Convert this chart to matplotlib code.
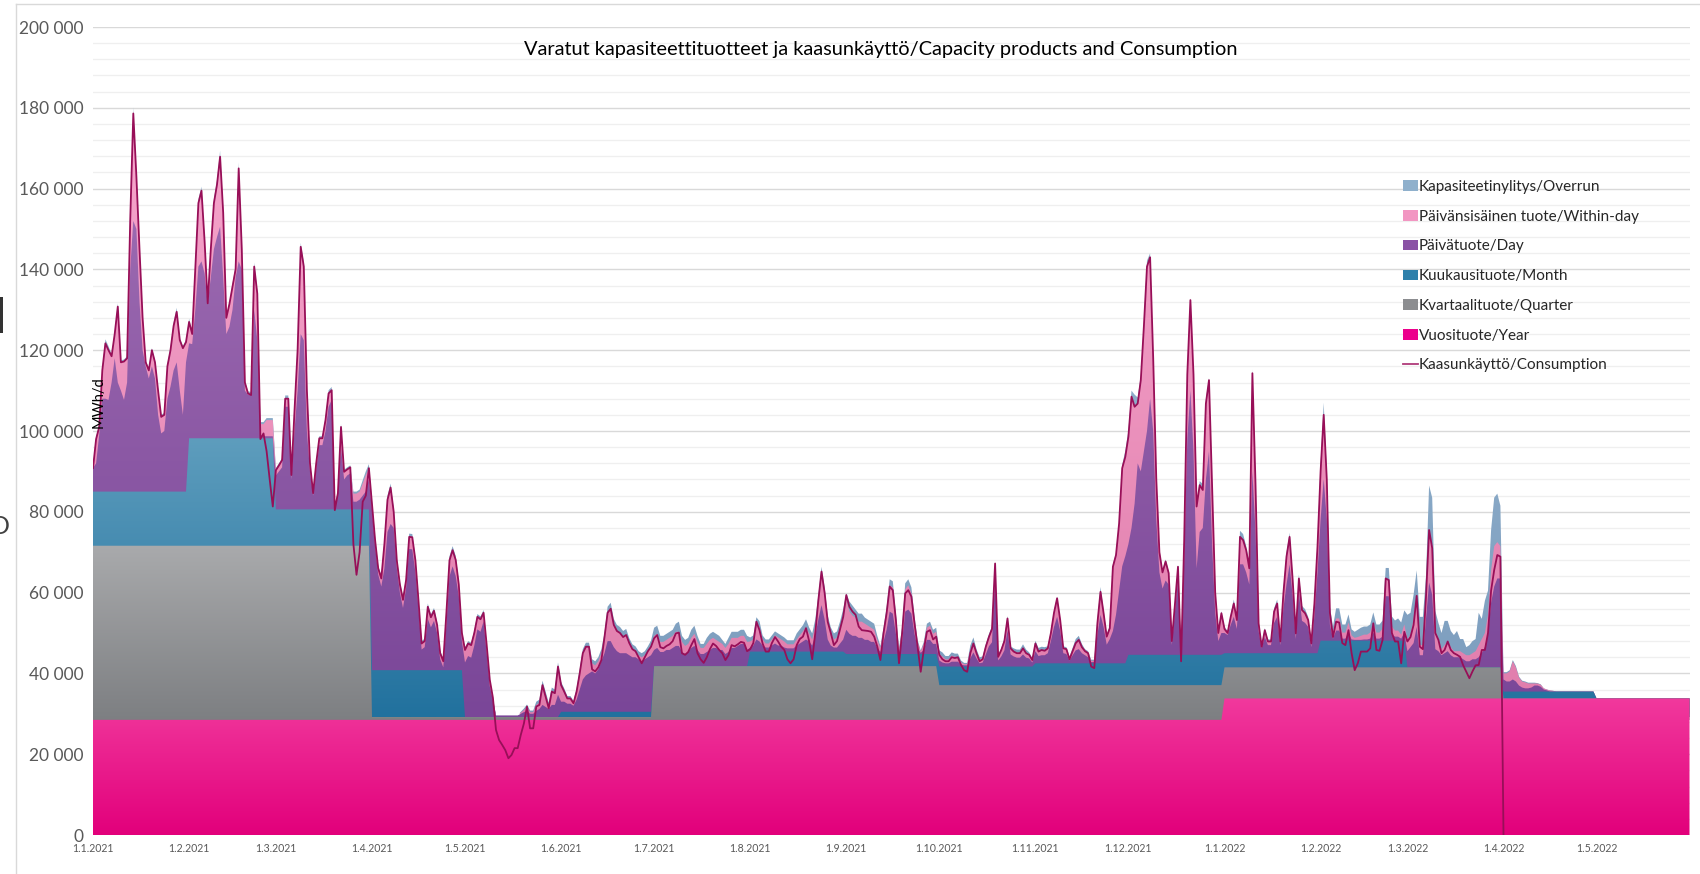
import numpy as np
import pandas as pd
import matplotlib
matplotlib.use("Agg")
import matplotlib.pyplot as plt
import matplotlib.dates as mdates
from matplotlib.colors import LinearSegmentedColormap
from matplotlib.patches import Patch, Rectangle
from matplotlib.lines import Line2D
from matplotlib.ticker import FuncFormatter, MultipleLocator

plt.rcParams['font.family'] = ['Lato', 'DejaVu Sans']

# ---------------- data (values in 1000 MWh/d) ----------------
start_date = "2021-01-01"
end_date = "2022-05-31"

# monthly step products, Jan 2021 ... May 2022
year_product_k = [28.5] * 12 + [33.8] * 5
quarter_product_k = [43.1, 43.1, 43.1, 0.7, 0.7, 0.7, 13.3, 13.3, 13.3,
                     8.6, 8.6, 8.6, 7.7, 7.7, 7.7, 0.0, 0.0]
month_product_k = [13.4, 26.6, 9.0, 11.6, 0.0, 1.3, 0.0, 3.6, 3.0,
                   4.6, 5.4, 7.5, 3.5, 6.6, 0.0, 1.7, 0.0]

# daily consumption 1.1.2021 ... 1.4.2022
consumption_k = [
    # Jan 2021
    90.8, 98, 101, 115, 121.7, 120, 118.5, 124, 130.8, 117, 117.2, 118, 152, 178.6, 163, 145,
    128, 117, 115, 120, 117, 110, 103.5, 104, 116, 120, 126, 129.5, 122.5, 120.5, 122,
    # Feb 2021
    127, 124, 140, 156.4, 159.5, 147, 131.6, 145, 156.4, 161, 167.9, 154, 128, 131.4,
    135.7, 140, 165, 145, 112, 109.3, 108.9, 140.7, 134, 98, 99.4, 95, 88, 81.3,
    # Mar 2021
    90.3, 91.5, 92.8, 108, 108, 89.1, 105, 120, 145.6, 140.7, 110, 92, 84.6, 92, 98.2, 98.2,
    102.7, 109.3, 110.1, 80.4, 84.6, 101, 89.9, 90.5, 91, 72, 64.4, 70, 82.5, 84, 90.8,
    # Apr 2021
    82, 73, 66, 63.5, 72, 83, 86, 80, 68, 62, 58.2, 63.1, 73.8, 73.7, 68, 58, 47.4, 48, 56.5,
    53.9, 55.5, 52, 45, 43, 55, 68, 70.5, 68.1, 62, 50,
    # May 2021
    45.8, 47.4, 47, 50, 54, 53.4, 55, 47, 38.4, 34, 26, 23.5, 22.3, 21, 19, 19.8, 21.5, 21.5,
    24.8, 27.6, 31.8, 26.4, 26.4, 31.8, 32.2, 37.1, 34.2, 31.4, 35.5, 35.1, 41.7,
    # Jun 2021
    37.1, 35.5, 33.8, 33.8, 32.6, 35.5, 40, 45, 46.6, 46.6, 41, 40.5, 41.5, 43.3, 49, 55, 56,
    52, 50.5, 50, 49, 49.5, 47.5, 46, 45.5, 44, 42.5, 44, 45.5, 46.6,
    # Jul 2021
    48.7, 49.5, 46.5, 46.2, 46.8, 47.2, 48, 49.9, 50.1, 45, 44.6, 45.3, 47, 48.5, 45, 43.5,
    42.6, 44, 46, 47.4, 46.8, 45.8, 45, 43.3, 44.5, 47, 46.7, 47.2, 47.8, 47.6, 45.5,
    # Aug 2021
    46, 47.5, 52.8, 50.7, 47.4, 45.4, 45.4, 47.5, 49, 47.9, 46.6, 45.8, 43.5, 42.5, 43.5, 47,
    48.5, 49.1, 51.2, 48, 43.5, 50, 58.2, 65.2, 60, 52.8, 50, 47, 48, 51, 54,
    # Sep 2021
    59.4, 56.5, 55.3, 54.5, 51.6, 50.7, 50.6, 50.5, 50.3, 49.1, 46.6, 43.3, 49.9, 54.9, 61.5,
    60.6, 53.2, 42.5, 49.9, 59.8, 60.6, 59, 52.4, 46.6, 40.4, 45.8, 50.3, 50.7, 48.4, 49.1,
    # Oct 2021
    44.6, 43.5, 43, 43, 44, 43.8, 44, 42.1, 40.8, 40.4, 45, 47.4, 45, 43, 43.5, 46.6, 49, 51,
    67.2, 44.1, 45.8, 48, 53.6, 46.2, 45.4, 45, 45, 46.2, 45, 44.6, 43.3,
    # Nov 2021
    47.4, 45.4, 45.8, 45.6, 46.2, 50, 55, 58.6, 53.2, 46.2, 46, 43.5, 45.5, 47.5, 48.3, 46.5,
    45.5, 45, 41.7, 41.3, 52.4, 60.2, 54.9, 49.1, 51.2, 66.4, 69.3, 77.1, 90.8, 93.6,
    # Dec 2021
    98.6, 108.5, 106, 106.8, 112.6, 126, 140.7, 143, 118, 88, 70, 65, 67.7, 64.8, 48, 57, 66.4,
    43, 73, 114, 132.4, 114, 81.3, 86.6, 85.4, 106.8, 112.6, 86.2, 60, 50, 54.9,
    # Jan 2022
    51, 50, 54, 57.3, 53.2, 73.8, 73, 70.5, 66, 114.3, 87, 52.4, 46.6, 50.7, 47.9, 47.9, 55.3,
    57.3, 47.9, 59.8, 68.9, 73.8, 63.1, 49.9, 63.5, 55.7, 54.9, 53.2, 47.4, 57.3, 71.4,
    # Feb 2022
    90, 104, 88, 55, 49, 52.8, 52.6, 47.5, 47, 50.7, 45, 40.8, 42.5, 45.4, 45.4, 45.4, 46.2,
    52.4, 45.8, 45.6, 48.3, 63.5, 63.1, 50, 47.9, 47.9, 42.5, 50.3,
    # Mar 2022
    47.9, 49, 52, 59.2, 46.6, 46, 59, 75.5, 71, 50, 48.3, 45, 45.8, 47.9, 45.8, 45, 44.6, 44.1,
    42, 40.4, 38.8, 40.5, 42, 42.1, 45.8, 45.8, 50, 60.5, 65.6, 69.3, 68.9,
    # 1.4.2022
    0,
]

# daily day product (Päivätuote/Day), 1.1.2021 ... 31.5.2022
day_product_k = [
    5.8, 7, 14, 23, 23, 22.7, 27, 33, 27, 25, 22.7, 27, 55, 67, 65, 47, 35, 31, 28, 31, 28, 19,
    14.4, 15, 23, 26, 30, 32, 25, 19, 32,
    23.5, 23.3, 31.8, 42.5, 43.8, 40.8, 33.4, 39.8, 46.8, 49.8, 52.4, 39.8, 25.8, 27.6, 31.8,
    39.8, 43.8, 41.8, 11.8, 10.8, 10.7, 31.8, 24.3, 0.5, 0.5, 0.5, 0.5, 0.5,
    8.4, 9.4, 10.4, 25.4, 25.4, 7.4, 19.4, 29.4, 43.4, 41.9, 19.4, 9.4, 3.4, 9.9, 15.9, 15.9,
    19.4, 25.4, 27.1, 0.4, 3.4, 15.4, 7.4, 8.4, 8.9, 1.9, 1.9, 2.4, 3.4, 4.4, 7.4,
    39.7, 30.7, 23.7, 20.7, 25.2, 34.2, 36.2, 35.2, 25.2, 19.2, 15.4, 20.3, 30, 29.9, 24.2,
    15.2, 5.1, 5.7, 12.7, 10.6, 12.2, 9.2, 2.7, 0.7, 11.2, 23.2, 25.7, 23.3, 18.2, 7.2,
    13.5, 15.1, 14.7, 17.7, 21.7, 21.1, 23.7, 15.7, 7.6, 4.2, 0.4, 0.4, 0.4, 0.4, 0.4, 0.4,
    0.4, 0.4, 0.8, 1.2, 1.5, 0.8, 0.8, 1.5, 2, 3, 2.5, 2, 3, 3, 5.5,
    2.5, 2.5, 2, 2, 1.5, 3, 5.5, 8, 9, 9.5, 10, 9.5, 10.5, 12.5, 14.5, 17.5, 17.5, 16, 15,
    14.5, 14.5, 14.5, 14, 13.5, 13.5, 13, 12.5, 13, 13.5, 14,
    4, 4.5, 3.5, 3.5, 4, 4, 4.5, 5, 5, 3.5, 3, 3.5, 4.5, 5, 4, 3, 3, 3.5, 4, 4.5, 4.5, 4, 4,
    3, 3.5, 4.5, 4.5, 5, 5.5, 5.5, 4,
    1, 1.5, 3, 2.5, 1.5, 1, 1, 1.5, 2, 1.5, 1.5, 1, 0.8, 0.8, 0.8, 1.5, 2, 2.5, 3, 2.5, 1.5,
    4, 8, 11.5, 8, 3, 1.5, 1, 1, 2, 3,
    6, 5, 4.5, 4.5, 4, 4, 3.5, 3.5, 3, 3, 1.5, 0.5, 3, 6, 10.5, 10, 5, 0.5, 3, 10.5, 11, 10,
    5, 1.5, 0.3, 1, 3.5, 3.5, 2.5, 2.5,
    1.5, 1, 0.8, 0.8, 1.2, 1.2, 1.2, 0.5, 0.3, 0.3, 2, 3.5, 2, 0.8, 1, 3, 5, 6, 22, 1.5, 2.5,
    4, 9, 3, 2.5, 2.2, 2.2, 3, 2.2, 2, 1,
    3, 1.8, 2, 2, 2.5, 5.5, 9, 11.5, 8, 2.5, 2.3, 0.7, 2, 3.2, 3.5, 2.5, 2, 1.5, 0.3, 0.3, 7,
    12, 9, 4.6, 6, 8, 12, 18, 24, 26.5,
    27.4, 31.4, 37.4, 47.4, 45.4, 50.4, 55.4, 63.4, 55.4, 33.4, 20.4, 16.4, 18.4, 17.4, 2.4,
    10.4, 18.4, 0.4, 23.4, 53.4, 65.4, 50.4, 21.4, 30.4, 31.4, 43.4, 50.4, 27.4, 10.4, 3.4, 5.4,
    5, 4.5, 7, 9, 6, 22, 22, 20, 17, 45, 30, 5.5, 1.2, 4, 2, 2, 7.5, 9, 2, 11, 17, 22, 14, 3.5,
    15, 8, 7.5, 6.5, 1.5, 9, 20,
    30, 40, 30, 4, 0.5, 2.5, 2.5, 0.5, 0.5, 2, 0.3, 0.2, 0.2, 0.2, 0.3, 0.3, 0.5, 2, 0.5, 0.5,
    1, 11, 11, 1.5, 1, 1, 0.5, 2,
    4, 5, 6, 10, 3, 3, 12, 21, 18, 4.5, 4, 3, 3.5, 4, 3, 2.5, 2.5, 2.5, 2, 1.5, 1.5, 2, 2, 2.5,
    3.5, 5, 8, 16, 20, 22, 22,
    3, 2.5, 2.5, 3, 2.5, 1.5, 1, 0.8, 0.8, 1, 1.5, 1.5, 1.2, 0.5, 0.3, 0, 0, 0, 0, 0, 0, 0, 0,
    0, 0, 0, 0, 0, 0, 0,
    0, 0, 0, 0, 0, 0, 0, 0, 0, 0, 0, 0, 0, 0, 0, 0, 0, 0, 0, 0, 0, 0, 0, 0, 0, 0, 0, 0, 0, 0, 0,
]

# daily within-day product (Päivänsisäinen tuote/Within-day)
within_day_k = [
    0, 6, 2, 7, 13.7, 12.3, 6.5, 6, 18.8, 7, 9.5, 6, 12, 26.6, 13, 13, 8, 1, 2, 4, 4, 6, 4.1, 4,
    8, 9, 11, 12.5, 12.5, 16.5, 5,
    5.3, 2.5, 10, 15.7, 17.5, 8, 0.5, 7, 11.4, 13, 17.3, 16, 4, 5.6, 5.7, 2, 23, 5, 2, 0.3,
    0.3, 10.7, 11.5, 3, 3, 4, 4, 4,
    1.3, 1.5, 1.8, 2, 2, 1.1, 5, 10, 21.6, 18.2, 10, 2, 0.6, 1.5, 1.7, 1.7, 2.7, 3.3, 2.4, 0.3,
    0.6, 5, 1.9, 1.5, 1.5, 2, 2, 2, 3, 4, 2.8,
    1.5, 1.5, 1.5, 2, 6, 8, 9, 4, 2, 2, 2, 2, 3, 3, 3, 2, 1.5, 1.5, 3, 2.5, 2.5, 2, 1.5, 1.5,
    3, 4, 4, 4, 3, 2,
    3, 3, 3, 3, 3, 3, 2, 2, 1.5, 0.5, 0, 0, 0, 0, 0, 0, 0, 0, 0.3, 0.5, 1, 0.4, 0.4, 1.5, 1.5,
    5, 3, 1, 3.5, 3, 7,
    4.1, 2.5, 1.3, 1.3, 0.6, 2, 4, 6.5, 7.1, 6.6, 2, 2, 2, 2, 4, 7, 8, 5.5, 5, 5, 4, 4.5, 3,
    2, 1.5, 1, 1, 1, 1.5, 2.1,
    3.5, 3.5, 2.5, 2.5, 2.5, 3, 3, 3.5, 3.5, 2.5, 2, 2, 2.5, 3, 2, 1.5, 1.5, 2, 2.5, 2.5, 2,
    2, 1.5, 1.5, 2, 2.5, 2.5, 2, 2, 2, 2,
    1.5, 1.5, 4, 3.5, 1.5, 1, 1, 1.5, 2, 2, 1.5, 1.5, 1, 1, 1, 1.5, 2, 2.5, 3, 2, 1.5, 2.5,
    4.5, 8, 6, 4, 3, 2, 2.5, 3.5, 5,
    7.5, 5.5, 5, 4.5, 4, 4, 4, 3.5, 3.5, 3, 2, 1, 2.5, 4.5, 6.5, 6.5, 4, 0.5, 2.5, 5.5, 6, 5,
    3.5, 1.5, 0.3, 1.5, 3, 3.5, 2.5, 3,
    1.5, 1.5, 1, 1, 1.5, 1.2, 1.2, 0.5, 0.3, 0.3, 2, 2.5, 1.5, 1, 1, 2, 2.5, 3.5, 3.5, 1, 1.5,
    2.5, 3, 1.5, 1.2, 1.2, 1.2, 1.5, 1.2, 1, 0.7,
    1.8, 1.2, 1.3, 1.2, 1.2, 2, 3.5, 4.5, 2.7, 1.2, 1.2, 0.5, 1, 1.8, 2.3, 1.5, 1, 1, 0.3,
    0.3, 3, 5.7, 3.4, 2, 2.7, 16, 14.8, 16.6, 24.3, 24.6,
    26.6, 32.5, 24, 14.8, 22.6, 31, 40.7, 35, 18, 10, 5, 4, 4.7, 2.8, 1, 2, 3.4, 0.3, 5, 16,
    22.4, 19, 15.3, 11.6, 9.4, 18.8, 17.6, 14.2, 5, 2, 4.9,
    1, 0.5, 2, 3.3, 2.2, 6.8, 6, 5.5, 4, 24.3, 12, 1.9, 0.4, 1.7, 0.9, 0.9, 2.8, 3.3, 0.9,
    3.8, 6.9, 6.8, 4.1, 1.4, 3.5, 2.7, 2.4, 1.7, 0.9, 3.3, 6.4,
    11.9, 15.9, 9.9, 2.9, 1.5, 3, 3, 1.5, 1.5, 2.5, 1, 0.5, 0.7, 1, 1.2, 1.2, 1.5, 2.5, 1.5,
    1.5, 2, 4.5, 4, 2, 1.5, 1.5, 1, 2,
    3, 3, 6, 8, 2.5, 2.5, 5.5, 13, 12, 4.5, 3, 1.5, 2, 2.5, 2, 1.5, 1.5, 1.5, 1.5, 1.5, 1.5,
    1.5, 2, 3, 3.5, 3.5, 5, 8, 10, 9, 8,
    1.5, 2, 2.5, 4.5, 3.5, 2, 1.5, 1.5, 1.2, 1, 0.5, 0.5, 0.5, 0.3, 0.2, 0.3, 0.2, 0, 0, 0, 0,
    0, 0, 0, 0, 0, 0, 0, 0, 0,
    0, 0, 0, 0, 0, 0, 0, 0, 0, 0, 0, 0, 0, 0, 0, 0, 0, 0, 0, 0, 0, 0, 0, 0, 0, 0, 0, 0, 0, 0, 0,
]

# daily overrun (Kapasiteetinylitys/Overrun)
overrun_k = [
    0.3, 0.5, 0.5, 0.5, 1, 1, 0.5, 0.5, 0.8, 0.5, 0.5, 0.5, 1, 1.5, 1, 1, 0.5, 0.5, 0.5, 0.5,
    0.5, 0.5, 0.5, 0.5, 0.5, 0.8, 0.8, 1, 0.5, 0.5, 0.5,
    0.8, 0.5, 1, 1, 1, 0.8, 0.5, 0.8, 1, 1, 1.5, 1, 0.5, 0.5, 0.8, 0.8, 1.5, 1, 0.5, 0.5, 0.5,
    1, 0.8, 0.5, 0.5, 0.5, 0.5, 0.5,
    0.5, 0.5, 0.5, 0.8, 0.8, 0.5, 0.8, 1, 1, 1, 0.8, 0.5, 0.5, 0.5, 0.5, 0.5, 0.5, 0.8, 0.8,
    0.3, 0.5, 0.8, 0.5, 0.5, 0.5, 0.5, 0.5, 0.5, 0.8, 1, 1,
    0.8, 0.8, 0.7, 0.7, 0.8, 1, 1, 0.8, 0.7, 0.7, 0.7, 0.7, 0.8, 0.8, 0.7, 0.7, 0.6, 0.6, 0.8,
    0.7, 0.7, 0.7, 0.6, 0.6, 0.8, 1, 1, 1, 0.8, 0.7,
    0.7, 0.7, 0.7, 0.7, 0.8, 0.8, 0.8, 0.6, 0.5, 0.3, 0, 0, 0, 0, 0, 0, 0, 0, 0.2, 0.4, 0.6,
    0.4, 0.4, 0.8, 0.8, 1, 0.8, 0.6, 0.8, 0.8, 1,
    0.8, 0.8, 0.6, 0.6, 0.6, 0.8, 1, 1, 1, 1, 1, 1, 1, 1, 1, 1.5, 1.5, 1.5, 1.5, 1.5, 1.5, 1.5,
    1.2, 1.2, 1.2, 1, 1, 1, 1.2, 1.5,
    2, 2, 1.5, 1.5, 1.5, 1.5, 1.5, 2, 2.5, 1.5, 1.5, 1.5, 2, 2, 1.5, 1, 1, 1.5, 1.5, 1.5, 1.5,
    1.5, 1, 1, 1.5, 1.5, 1.5, 1.5, 1.5, 1.5, 1.5,
    1, 1, 1.5, 1.5, 1, 1, 1, 1, 1, 1, 1, 1, 1, 1, 1, 1.5, 1.5, 1.5, 2, 1.5, 1.5, 1.5, 1.5, 1.5,
    2, 2, 1.5, 1.5, 1.5, 2, 2.5,
    1.5, 2.5, 2.5, 2, 2, 2, 1.5, 1.5, 1.5, 1.5, 1, 0.5, 1, 1, 1.5, 1.5, 1, 0.5, 1, 1.5, 1.5,
    1.5, 1, 0.5, 0.3, 0.5, 1, 1, 1, 1,
    1, 1, 0.8, 0.8, 0.8, 0.8, 0.8, 0.5, 0.3, 0.3, 1.2, 1.2, 0.8, 0.5, 0.5, 0.5, 0.5, 0.5, 0.5,
    0.5, 0.5, 0.5, 0.5, 0.5, 0.8, 0.8, 0.8, 1, 0.8, 0.5, 0.3,
    0.8, 0.8, 0.8, 0.8, 0.5, 0.5, 0.5, 0.5, 0.5, 0.5, 0.5, 0.5, 0.8, 1, 1, 0.8, 0.5, 0.5, 0.3,
    0.3, 0.8, 1.2, 0.8, 0.5, 0.5, 0.5, 0.5, 0.5, 0.8, 1.5,
    1.5, 1.5, 3, 1.5, 1, 1, 1.5, 1, 0.5, 0.5, 0.5, 0.5, 0.5, 0.5, 0.3, 0.3, 0.5, 0.2, 0.5, 0.5,
    0.5, 0.5, 0.5, 1, 1.5, 1, 0.5, 0.5, 0.5, 0.5, 0.5,
    0.5, 0.5, 0.5, 1, 0.5, 1.5, 1.5, 1, 1, 1, 1, 0.5, 0.3, 0.5, 0.5, 0.5, 0.8, 1, 0.5, 1, 1,
    1, 0.8, 0.5, 1, 1, 1, 0.8, 0.5, 1, 1,
    2, 3, 2, 1.5, 1.5, 2.5, 2.5, 2, 2, 2, 1.5, 1.5, 1.8, 2, 2, 2, 2, 2.5, 2, 2, 2, 2.5, 3, 2.5,
    2.5, 3, 3, 3.5,
    6, 5.5, 6, 6, 7, 7, 5, 11, 12, 5, 4, 4, 6, 5, 4, 4, 5, 3, 3.5, 2, 2.5, 3, 3, 8, 5, 8, 6, 10,
    12, 12, 10,
    0.3, 0.3, 0.3, 0.3, 0.3, 0.2, 0.2, 0.2, 0.2, 0.2, 0.2, 0.1, 0.1, 0, 0, 0, 0, 0, 0, 0, 0, 0,
    0, 0, 0, 0, 0, 0, 0, 0,
    0, 0, 0, 0, 0, 0, 0, 0, 0, 0, 0, 0, 0, 0, 0, 0, 0, 0, 0, 0, 0, 0, 0, 0, 0, 0, 0, 0, 0, 0, 0,
]

series_labels = ["Kapasiteetinylitys/Overrun", "Päivänsisäinen tuote/Within-day",
                 "Päivätuote/Day", "Kuukausituote/Month", "Kvartaalituote/Quarter",
                 "Vuosituote/Year", "Kaasunkäyttö/Consumption"]
title_text = "Varatut kapasiteettituotteet ja kaasunkäyttö/Capacity products and Consumption"
y_label = "MWh/d"

# ---------------- build daily series ----------------
K = 1000.0
dates = pd.date_range(start_date, end_date, freq="D")
n = len(dates)
midx = (dates.year - 2021) * 12 + dates.month - 1
year_d = np.array(year_product_k)[midx] * K
quarter_d = np.array(quarter_product_k)[midx] * K
month_d = np.array(month_product_k)[midx] * K
day_d = np.array(day_product_k[:n]) * K
within_d = np.array(within_day_k[:n]) * K
over_d = np.array(overrun_k[:n]) * K
cons = np.array(consumption_k) * K

x = mdates.date2num(dates.to_pydatetime())

layers = [year_d, quarter_d, month_d, day_d, within_d, over_d]
cum = np.cumsum(np.vstack(layers), axis=0)
lows = [np.zeros(n)] + [cum[i - 1] for i in range(1, len(layers))]

grad_colors = [
    ("#f1399d", "#e2007b"),   # year
    ("#a9aaac", "#7d7f82"),   # quarter
    ("#5e9dbd", "#21719e"),   # month
    ("#9b69b0", "#7a4698"),   # day
    ("#f7a7cd", "#e07dac"),   # within-day
    ("#9cbad3", "#7c9dbe"),   # overrun
]
legend_colors = ["#8fb0cc", "#f296c2", "#8a52a5", "#2e80ab", "#8c8d90", "#ec008c"]
line_color = "#980f58"

# ---------------- figure ----------------
W_PX, H_PX, DPI = 1700, 874, 100
fig = plt.figure(figsize=(W_PX / DPI, H_PX / DPI), dpi=DPI)
left, right = 93 / W_PX, 1689.5 / W_PX
bottom, top = 1 - 835 / H_PX, 1 - 27 / H_PX
ax = fig.add_axes([left, bottom, right - left, top - bottom])

# draw layers top-down, each clipped to area between 0 and its cumulative top (no seams)
for i in range(len(layers) - 1, -1, -1):
    hi = cum[i]
    lo = lows[i]
    if np.max(hi - lo) <= 0:
        continue
    coll = ax.fill_between(x, 0, hi, facecolor="none", edgecolor="none", linewidth=0)
    c_top, c_bot = grad_colors[i]
    cmap = LinearSegmentedColormap.from_list("g%d" % i, [c_bot, c_top])
    mask = (hi - lo) > 0
    ymin = np.min(lo[mask])
    ymax = np.max(hi[mask])
    grad = np.linspace(0, 1, 256).reshape(-1, 1)
    im = ax.imshow(grad, cmap=cmap, aspect="auto", origin="lower",
                   extent=[x[0], x[-1], ymin, ymax], zorder=2 + (len(layers) - i) * 0.1,
                   interpolation="bilinear")
    im.set_clip_path(coll.get_paths()[0], ax.transData)

# consumption line
ax.plot(x[:len(cons)], cons, color=line_color, lw=1.3, zorder=5, solid_joinstyle="round")

ax.set_xlim(x[0], x[-1])
ax.set_ylim(0, 200000)

# grid
ax.yaxis.set_major_locator(MultipleLocator(20000))
ax.yaxis.set_minor_locator(MultipleLocator(4000))
ax.grid(which="major", axis="y", color="#d9d9d9", lw=1.0, zorder=0)
ax.grid(which="minor", axis="y", color="#efefef", lw=0.9, zorder=0)
ax.set_axisbelow(True)
for s in ax.spines.values():
    s.set_visible(False)

ax.yaxis.set_major_formatter(FuncFormatter(lambda v, p: ("%d" % v) if v == 0 else f"{int(v):,}".replace(",", " ")))
ax.tick_params(axis="y", which="both", length=0, labelsize=12.5, labelcolor="#595959", pad=7)

month_starts = pd.date_range(start_date, end_date, freq="MS")
ax.set_xticks(mdates.date2num(month_starts.to_pydatetime()))
ax.set_xticklabels([f"{d.day}.{d.month}.{d.year}" for d in month_starts])
ax.tick_params(axis="x", which="both", length=0, labelsize=7.6, labelcolor="#595959", pad=6)

# texts
fig.text(881 / W_PX, 1 - 49 / H_PX, title_text, ha="center", va="center", fontsize=14.4, color="#000000")
fig.text(99 / W_PX, 1 - 402 / H_PX, y_label, rotation=90, ha="center", va="center",
         fontsize=10.5, color="#000000")

# legend
handles = [Patch(facecolor=c, edgecolor="none") for c in legend_colors]
handles.append(Line2D([0], [0], color="#b03a7a", lw=1.3))
fig.legend(handles, series_labels, loc="upper left",
           bbox_to_anchor=(1403 / W_PX, 1 - 180 / H_PX), frameon=False, fontsize=11,
           handlelength=0.95, handleheight=0.7, handletextpad=0.1, labelspacing=1.03,
           borderpad=0, borderaxespad=0, labelcolor="#262626")

# outer chart frame (partially visible) and cut-off fragments at left edge
fig.add_artist(Line2D([16 / W_PX, 16 / W_PX], [0, 1 - 4 / H_PX], transform=fig.transFigure,
                      color="#d9d9d9", lw=1))
fig.add_artist(Line2D([16 / W_PX, 1], [1 - 4 / H_PX, 1 - 4 / H_PX], transform=fig.transFigure,
                      color="#d9d9d9", lw=1))
fig.add_artist(Rectangle((0, 1 - 333 / H_PX), 3 / W_PX, 36 / H_PX, transform=fig.transFigure,
                         facecolor="#333333", edgecolor="none"))
fig.text(0, 1 - 526 / H_PX, "O", ha="center", va="center", fontsize=18, color="#404040")

fig.savefig("out.png", dpi=DPI)
